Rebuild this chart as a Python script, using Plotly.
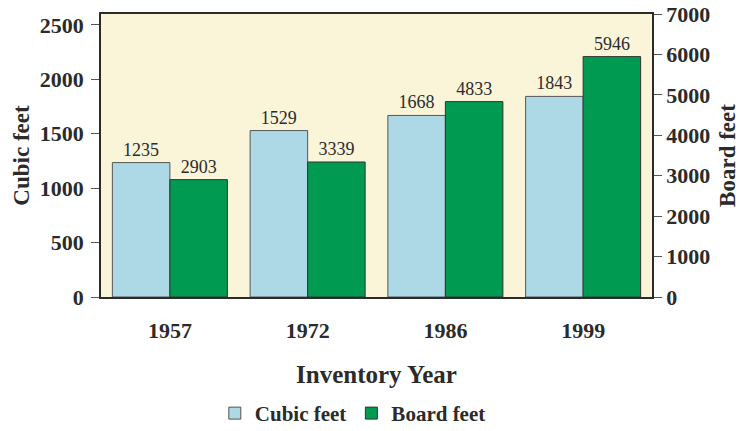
import plotly.graph_objects as go

years = ["1957", "1972", "1986", "1999"]
cubic_feet = [1235, 1529, 1668, 1843]
board_feet = [2903, 3339, 4833, 5946]
left_ticks = [0, 500, 1000, 1500, 2000, 2500]
right_ticks = [0, 1000, 2000, 3000, 4000, 5000, 6000, 7000]

FONT = "Liberation Serif"
DARK = "#2b2b2b"

fig = go.Figure()
fig.add_trace(go.Bar(
    x=years, y=cubic_feet, name="Cubic feet", yaxis="y", offsetgroup="1",
    marker=dict(color="#ADD8E6", line=dict(color="#555555", width=1)),
    text=[str(v) for v in cubic_feet], textposition="outside",
    textfont=dict(family=FONT, size=18, color=DARK), cliponaxis=False,
))
fig.add_trace(go.Bar(
    x=years, y=board_feet, name="Board feet", yaxis="y2", offsetgroup="2",
    marker=dict(color="#009A50", line=dict(color="#333333", width=1)),
    text=[str(v) for v in board_feet], textposition="outside",
    textfont=dict(family=FONT, size=18, color=DARK), cliponaxis=False,
))

fig.update_layout(
    width=740, height=431,
    margin=dict(l=101, r=88, t=14, b=134, autoexpand=False),
    paper_bgcolor="white", plot_bgcolor="#FAF4D8",
    barmode="group", bargap=0.165, bargroupgap=0,
    font=dict(family=FONT, color=DARK),
    showlegend=True,
    legend=dict(orientation="h", x=0.457, xanchor="center", y=-0.484, yanchor="bottom",
                font=dict(family=FONT, size=21, color=DARK, weight="bold"),
                bgcolor="rgba(0,0,0,0)"),
    xaxis=dict(
        type="category", showline=True, linecolor=DARK, linewidth=2, mirror=True,
        ticks="outside", ticklen=13, tickcolor="rgba(0,0,0,0)", automargin=False,
        tickfont=dict(family=FONT, size=22, color=DARK, weight="bold"),
        title=dict(text="Inventory Year", standoff=23,
                   font=dict(family=FONT, size=25, color=DARK, weight="bold")),
        showgrid=False,
    ),
    yaxis=dict(
        range=[0, 2600], tickvals=left_ticks, showgrid=False, zeroline=False,
        showline=True, linecolor=DARK, linewidth=1.5, automargin=False,
        ticks="outside", ticklen=8, tickcolor="#555555", ticklabeloverflow="allow",
        ticklabelstandoff=3,
        tickfont=dict(family=FONT, size=22, color=DARK, weight="bold"),
        title=dict(text="Cubic feet", standoff=4,
                   font=dict(family=FONT, size=23, color=DARK, weight="bold")),
    ),
    yaxis2=dict(
        range=[0, 7000], tickvals=right_ticks, overlaying="y", side="right",
        showgrid=False, zeroline=False, showline=True, linecolor=DARK, linewidth=1.5,
        automargin=False, ticklabeloverflow="allow",
        ticks="outside", ticklen=8, tickcolor="#555555",
        tickfont=dict(family=FONT, size=22, color=DARK, weight="bold"),
        title=dict(text="Board feet", standoff=11,
                   font=dict(family=FONT, size=23, color=DARK, weight="bold")),
    ),
)

fig.write_html("out.html", config={"displayModeBar": False},
               post_script="document.body.style.margin='0';")
